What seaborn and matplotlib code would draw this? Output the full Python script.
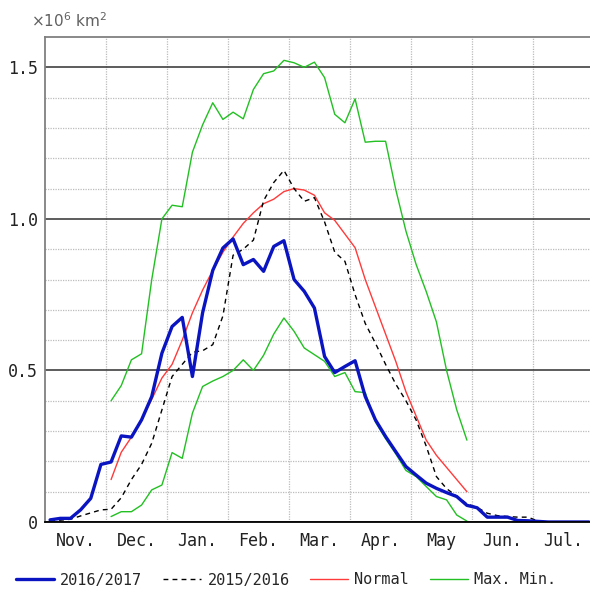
import numpy as np
import pandas as pd
import seaborn as sns
import matplotlib
matplotlib.use('Agg')
import matplotlib.pyplot as plt
from matplotlib.lines import Line2D

# pentad values (x10^6 km2), 6 pentads per month starting 1 Nov
months = ['Nov.', 'Dec.', 'Jan.', 'Feb.', 'Mar.', 'Apr.', 'May', 'Jun.', 'Jul.']

y2016 = [0.007, 0.012, 0.012, 0.040, 0.078, 0.19, 0.198, 0.284, 0.28, 0.337,
         0.414, 0.557, 0.645, 0.675, 0.48, 0.69, 0.83, 0.904, 0.934, 0.849,
         0.866, 0.827, 0.909, 0.928, 0.80, 0.761, 0.706, 0.546, 0.493, 0.513,
         0.532, 0.414, 0.337, 0.282, 0.232, 0.183, 0.155, 0.128, 0.111, 0.097,
         0.084, 0.055, 0.047, 0.016, 0.016, 0.016, 0.005, 0.004, 0.002, 0.0,
         0.0, 0.0, 0.0, 0.0]

y2015 = [0.004, 0.006, 0.009, 0.02, 0.03, 0.04, 0.042, 0.08, 0.14, 0.19,
         0.26, 0.37, 0.48, 0.52, 0.56, 0.565, 0.585, 0.68, 0.88, 0.90,
         0.93, 1.06, 1.12, 1.16, 1.10, 1.058, 1.07, 0.99, 0.89, 0.86,
         0.75, 0.655, 0.59, 0.52, 0.455, 0.40, 0.337, 0.25, 0.15, 0.11,
         0.085, 0.06, 0.048, 0.029, 0.021, 0.018, 0.016, 0.016, 0.003, 0.0]

# normal / max / min cover pentads 6..41
normal = [0.14, 0.23, 0.28, 0.34, 0.405, 0.475, 0.52, 0.60, 0.69, 0.765,
          0.83, 0.89, 0.94, 0.985, 1.02, 1.05, 1.065, 1.09, 1.10, 1.095,
          1.078, 1.02, 0.995, 0.95, 0.905, 0.80, 0.71, 0.62, 0.53, 0.43,
          0.35, 0.27, 0.22, 0.18, 0.14, 0.10]

ymax = [0.40, 0.45, 0.535, 0.555, 0.80, 1.0, 1.045, 1.04, 1.22, 1.31,
        1.383, 1.328, 1.352, 1.33, 1.427, 1.479, 1.488, 1.523, 1.515, 1.50,
        1.517, 1.466, 1.345, 1.317, 1.396, 1.253, 1.256, 1.256, 1.097, 0.96,
        0.85, 0.76, 0.66, 0.50, 0.37, 0.27]

ymin = [0.018, 0.034, 0.034, 0.056, 0.106, 0.122, 0.229, 0.21, 0.359, 0.447,
        0.465, 0.48, 0.50, 0.535, 0.50, 0.55, 0.62, 0.673, 0.629, 0.574,
        0.552, 0.53, 0.48, 0.493, 0.43, 0.427, 0.33, 0.275, 0.225, 0.17,
        0.15, 0.117, 0.084, 0.073, 0.023, 0.003]

x2016 = np.arange(len(y2016)) + 0.5
x2015 = np.arange(len(y2015)) + 0.5
xclim = np.arange(6, 6 + len(normal)) + 0.5

mono = 'DejaVu Sans Mono'
sns.set_style('white')
plt.rcParams['font.family'] = [mono]

fig = plt.figure(figsize=(5.9, 5.93), dpi=100)
ax = fig.add_axes([45 / 590, 1 - 522 / 593, 1 - 45 / 590, (522 - 37) / 593])

sns.lineplot(x=xclim, y=ymax, ax=ax, color='#22c022', lw=1.0)
sns.lineplot(x=xclim, y=ymin, ax=ax, color='#22c022', lw=1.0)
sns.lineplot(x=xclim, y=normal, ax=ax, color='#ff3a3a', lw=1.0)
sns.lineplot(x=x2015, y=y2015, ax=ax, color='black', lw=1.0, linestyle=(0, (3.5, 3)))
sns.lineplot(x=x2016, y=y2016, ax=ax, color='#0a14c0', lw=2.4)

ax.set_xlim(0, (590 - 45) / (61 / 6))
ax.set_ylim(0, 1.6)

ax.set_xticks(np.arange(6, 54, 6))
ax.set_xticklabels([])
ax.set_xticks(np.arange(3, 54, 6), minor=True)
ax.set_xticklabels(months, minor=True, fontsize=12, color='#222222')
ax.set_yticks([0, 0.5, 1.0, 1.5])
ax.set_yticklabels(['0', '0.5', '1.0', '1.5'], fontsize=12, color='#222222')
ax.set_yticks(np.arange(0.1, 1.6, 0.1), minor=True)
ax.tick_params(which='both', length=0, pad=5)
ax.tick_params(axis='x', which='minor', pad=7)

ax.grid(which='major', axis='y', color='#303030', lw=1.1)
ax.grid(which='minor', axis='y', color='#bcbcbc', lw=0.9, linestyle=(0, (1, 1)))
ax.grid(which='major', axis='x', color='#bcbcbc', lw=0.9, linestyle=(0, (1, 1)))
ax.set_axisbelow(True)

ax.spines['right'].set_visible(False)
ax.spines['top'].set_color('#808080')
ax.spines['left'].set_color('#808080')
ax.spines['bottom'].set_color('#000000')
for s in ['top', 'left', 'bottom']:
    ax.spines[s].set_linewidth(1.3)

ax.set_xlabel('')
ax.set_ylabel('')

fig.text(31 / 590, 1 - 21 / 593, r'$\times$10$^6$ km$^2$', fontsize=11,
         color='#606060', va='center', family='DejaVu Sans')

handles = [Line2D([], [], color='#0a14c0', lw=2.4),
           Line2D([], [], color='black', lw=1.0, linestyle=(0, (3.5, 3))),
           Line2D([], [], color='#ff3a3a', lw=1.0),
           Line2D([], [], color='#22c022', lw=1.0)]
fig.legend(handles, ['2016/2017', '2015/2016', 'Normal', 'Max. Min.'],
           loc='center', bbox_to_anchor=(0.485, 1 - 580 / 593), ncol=4,
           frameon=False, fontsize=11, handlelength=2.5, handletextpad=0.4,
           columnspacing=1.35)

fig.savefig('out.png', dpi=100)
